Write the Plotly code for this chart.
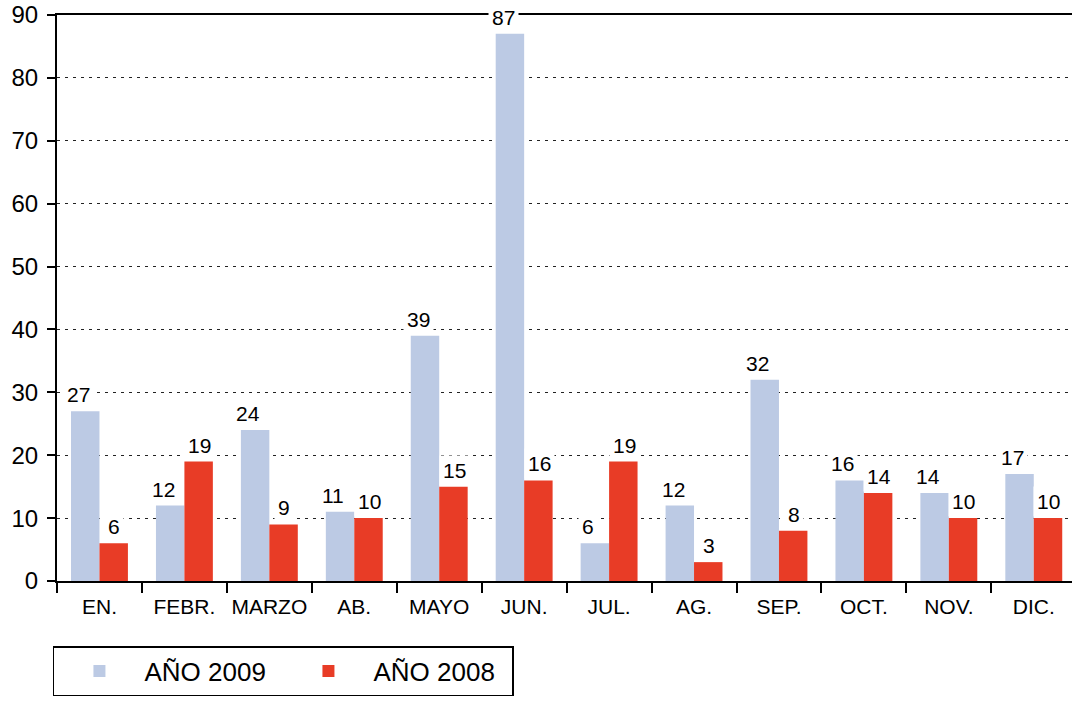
import plotly.graph_objects as go

months = ["EN.", "FEBR.", "MARZO", "AB.", "MAYO", "JUN.", "JUL.", "AG.", "SEP.", "OCT.", "NOV.", "DIC."]
v2009 = [27, 12, 24, 11, 39, 87, 6, 12, 32, 16, 14, 17]
v2008 = [6, 19, 9, 10, 15, 16, 19, 3, 8, 14, 10, 10]
names = ["AÑO 2009", "AÑO 2008"]
colors = ["#bccae4", "#e83c26"]
yticks = list(range(0, 91, 10))

FONT = "Liberation Sans, Arial, Helvetica, sans-serif"

fig = go.Figure()
fig.add_trace(go.Bar(x=months, y=v2009, name=names[0], marker=dict(color=colors[0], line=dict(width=0))))
fig.add_trace(go.Bar(x=months, y=v2008, name=names[1], marker=dict(color=colors[1], line=dict(width=0))))

annotations = []
for series, shift in ((v2009, -21), (v2008, 15)):
    for m, v in zip(months, series):
        annotations.append(dict(
            x=m, y=v, xref="x", yref="y", text=str(v), showarrow=False,
            xanchor="center", yanchor="bottom", xshift=shift, yshift=1,
            bgcolor="white", borderpad=3,
            font=dict(family=FONT, size=21, color="black"),
        ))

fig.update_layout(
    width=1072, height=702,
    margin=dict(l=57, r=0, t=15, b=121, autoexpand=False),
    paper_bgcolor="white", plot_bgcolor="white",
    barmode="group", bargap=0.33, bargroupgap=0,
    font=dict(family=FONT, color="black"),
    annotations=annotations,
    showlegend=True,
    legend=dict(
        orientation="h", x=-0.004, xanchor="left", y=-0.115, yanchor="top",
        bordercolor="black", borderwidth=1.5, bgcolor="white",
        font=dict(family=FONT, size=26, color="black"),
        entrywidth=134, entrywidthmode="pixels",
        itemwidth=80,
    ),
    xaxis=dict(
        type="category", range=[-0.5, 11.45], automargin=False, tickangle=0,
        showline=True, linecolor="black", linewidth=2, mirror=True,
        ticks="outside", tickson="boundaries", ticklen=10, tickwidth=1.5, tickcolor="black",
        ticklabelstandoff=6,
        tickfont=dict(family=FONT, size=21, color="black"),
        showgrid=False, zeroline=False,
    ),
    yaxis=dict(
        range=[0, 90], tickvals=yticks, automargin=False,
        showline=True, linecolor="black", linewidth=2,
        ticks="outside", ticklen=8, tickwidth=1.5, tickcolor="black",
        ticklabelstandoff=4,
        tickfont=dict(family=FONT, size=24, color="black"),
        showgrid=True, gridcolor="#222222", gridwidth=1.2, griddash="3px,5px",
        zeroline=False,
    ),
)

fig.write_html("out.html", config={"displayModeBar": False},
               post_script="document.body.style.margin='0';")
